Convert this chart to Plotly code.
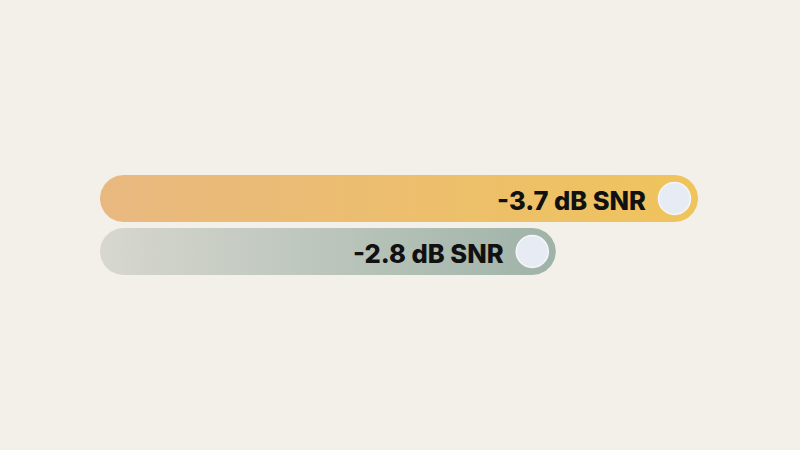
import numpy as np
import plotly.graph_objects as go

# data
snr_db = [-3.7, -2.82]          # bar lengths
labels = ["-3.7 dB SNR", "-2.8 dB SNR"]
bar_left_colors = ["#E9B880", "#D7D7CF"]
bar_right_colors = ["#EFC45C", "#9FB3A8"]

W, H = 800, 450
x0_px = 100                        # where x=0 lands
px_per_unit = 598 / 3.7            # horizontal scale
row_px = 53                        # distance between bar centres
y0_px = 198.5                      # centre of first bar
bar_h_px = 47
r_px = bar_h_px / 2

x_range = [-x0_px / px_per_unit, (W - x0_px) / px_per_unit]
y_range = [(H - y0_px) / row_px, -y0_px / row_px]   # reversed


def stadium(length, yc):
    # rounded bar outline from 0 to length, in data units
    rx = r_px / px_per_unit
    ry = r_px / row_px
    t = np.linspace(-np.pi / 2, np.pi / 2, 40)
    xr = length - rx + rx * np.cos(t)
    yr = yc + ry * np.sin(t)
    xl = rx - rx * np.cos(t)
    yl = yc - ry * np.sin(t)
    xs = np.concatenate([xr, xl, xr[:1]])
    ys = np.concatenate([yr, yl, yr[:1]])
    return xs, ys


fig = go.Figure()

for i, (v, lab) in enumerate(zip(snr_db, labels)):
    length = abs(v)
    xs, ys = stadium(length, i)
    fig.add_trace(go.Scatter(
        x=xs, y=ys, mode="lines", fill="toself",
        line=dict(width=0, color="rgba(0,0,0,0)"),
        fillgradient=dict(type="horizontal",
                          colorscale=[[0, bar_left_colors[i]], [1, bar_right_colors[i]]]),
        hoverinfo="skip", showlegend=False,
    ))
    # knob at the end of the bar
    fig.add_trace(go.Scatter(
        x=[length - r_px / px_per_unit], y=[i], mode="markers",
        marker=dict(size=32, color="#E7ECF4", line=dict(width=1.5, color="#F4F6FA")),
        hovertemplate=lab + "<extra></extra>", showlegend=False,
    ))
    fig.add_annotation(
        x=length, y=i, text=lab, showarrow=False,
        xanchor="right", yanchor="middle", xshift=-50, yshift=-2,
        font=dict(family="Inter", size=25.5, weight=800, color="#111111"),
    )

fig.update_layout(
    width=W, height=H,
    margin=dict(l=0, r=0, t=0, b=0),
    paper_bgcolor="#F3EFE9",
    plot_bgcolor="#F3EFE9",
    xaxis=dict(range=x_range, visible=False, fixedrange=True),
    yaxis=dict(range=y_range, visible=False, fixedrange=True),
    showlegend=False,
)

fig.write_html("out.html", config={"displayModeBar": False},
               post_script="document.body.style.margin='0';")
